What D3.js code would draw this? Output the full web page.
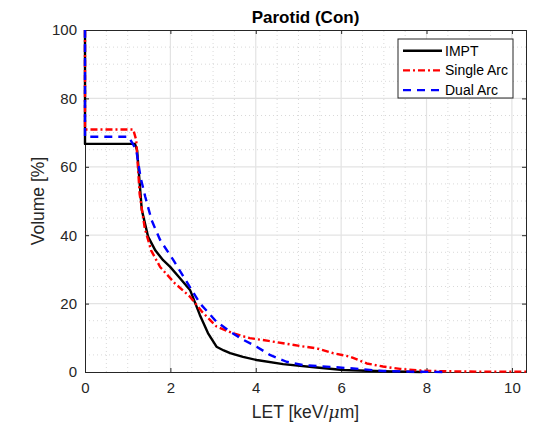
<!DOCTYPE html>
<html>
<head>
<meta charset="utf-8">
<script src="https://cdn.jsdelivr.net/npm/d3@7"></script>
<style>
  html, body { margin: 0; padding: 0; background: #fff; }
  svg { display: block; font-family: "Liberation Sans", Arial, Helvetica, sans-serif; }
</style>
</head>
<body>
<svg id="chart" width="537" height="427"></svg>
<script>
// LET-volume histogram for the contralateral parotid
const seriesNames = ["IMPT", "Single Arc", "Dual Arc"];
const seriesColors = ["#000000", "#ff0000", "#0000ff"];
const seriesDash = [null, "7,3,2,3", "8,6"];

const imptLET = [0, 0, 1.17, 1.22, 1.33, 1.48, 1.65, 1.83, 1.99, 2.2, 2.46, 2.58, 2.69, 2.88, 3.08, 3.25, 3.40, 3.7, 4.02, 4.64, 5.43, 6.05, 6.6, 7.2, 7.9];
const imptVol = [100, 66.7, 66.7, 64.9, 47.4, 39.5, 35.5, 32.7, 30.8, 27.8, 24, 20.2, 16.7, 11.4, 7.4, 6.3, 5.5, 4.4, 3.5, 2.3, 1.3, 0.6, 0.35, 0.15, 0];

const singleLET = [0, 0, 1.13, 1.2, 1.28, 1.4, 1.55, 1.76, 2.1, 2.46, 2.75, 3.08, 3.47, 3.86, 4.3, 4.64, 5.04, 5.43, 5.81, 6.21, 6.6, 6.98, 7.38, 7.77, 8.16, 8.6, 9.2, 10.33];
const singleVol = [100, 70.9, 70.9, 67.8, 52, 42, 35.5, 30.7, 26, 22, 17.5, 13.3, 11.3, 9.9, 9.1, 8.4, 7.6, 6.9, 5.5, 4.5, 2.5, 1.6, 0.9, 0.5, 0.3, 0.2, 0.1, 0.1];

const dualLET = [0, 0, 1.02, 1.2, 1.3, 1.41, 1.56, 1.76, 2.07, 2.38, 2.69, 3.08, 3.40, 3.71, 4.02, 4.33, 4.72, 5.11, 5.74, 6.21, 6.98, 7.6, 8.47];
const dualVol = [100, 68.8, 68.8, 65, 57, 51.3, 44.4, 38.6, 32.7, 26.4, 20.1, 14.7, 11.8, 9.4, 7.4, 5.0, 3.0, 2.0, 1.5, 1.1, 0.3, 0.1, 0];

const xTicks = [0, 2, 4, 6, 8, 10];
const yTicks = [0, 20, 40, 60, 80, 100];

const svg = d3.select("#chart");
const margin = { left: 85, right: 11, top: 30, bottom: 55 };
const W = 537, H = 427;
const xMax = 10.33;
const x = d3.scaleLinear().domain([0, xMax]).range([margin.left, W - margin.right]);
const y = d3.scaleLinear().domain([0, 100]).range([H - margin.bottom, margin.top]);

const textColor = "#262626";

// grid: dotted minor, solid major
const grid = svg.append("g");
d3.range(0.5, xMax, 0.5).forEach(v => {
  const major = Math.abs(v % 2) < 1e-9;
  grid.append("line").attr("x1", x(v)).attr("x2", x(v)).attr("y1", y(0)).attr("y2", y(100))
    .attr("stroke", major ? "#e3e3e3" : "#cfcfcf").attr("stroke-width", major ? 1.2 : 0.8)
    .attr("stroke-dasharray", major ? null : "1,3");
});
d3.range(5, 100, 5).forEach(v => {
  const major = v % 20 === 0;
  grid.append("line").attr("x1", x(0)).attr("x2", x(xMax)).attr("y1", y(v)).attr("y2", y(v))
    .attr("stroke", major ? "#e3e3e3" : "#cfcfcf").attr("stroke-width", major ? 1.2 : 0.8)
    .attr("stroke-dasharray", major ? null : "1,3");
});

// axes with a full box
const xAxis = d3.axisBottom(x).tickValues(xTicks).tickSize(-4).tickPadding(8);
const yAxis = d3.axisLeft(y).tickValues(yTicks).tickSize(-4).tickPadding(8);
const xa = svg.append("g").attr("transform", `translate(0,${y(0)})`).call(xAxis);
const ya = svg.append("g").attr("transform", `translate(${x(0)},0)`).call(yAxis);
const xTop = svg.append("g").attr("transform", `translate(0,${y(100)})`)
  .call(d3.axisTop(x).tickValues(xTicks).tickSize(-4).tickFormat(""));
const yRight = svg.append("g").attr("transform", `translate(${x(xMax)},0)`)
  .call(d3.axisRight(y).tickValues(yTicks).tickSize(-4).tickFormat(""));
[xa, ya, xTop, yRight].forEach(g => {
  g.select(".domain").attr("stroke", textColor).attr("stroke-width", 1);
  g.selectAll(".tick line").attr("stroke", textColor);
  g.selectAll("text").attr("fill", textColor).attr("font-size", 15)
    .attr("font-family", "Liberation Sans, Arial, sans-serif");
});
xa.selectAll("text").attr("dy", "0.85em");

// curves
const line = d3.line().x(d => x(d[0])).y(d => y(d[1]));
const seriesData = [
  d3.zip(imptLET, imptVol),
  d3.zip(singleLET, singleVol),
  d3.zip(dualLET, dualVol)
];
seriesData.forEach((d, i) => {
  svg.append("path").datum(d).attr("d", line)
    .attr("fill", "none").attr("stroke", seriesColors[i]).attr("stroke-width", 2.4)
    .attr("stroke-dasharray", seriesDash[i]).attr("stroke-linejoin", "round");
});

// title and axis labels
svg.append("text").attr("x", (x(0) + x(xMax)) / 2).attr("y", 23).attr("text-anchor", "middle")
  .attr("font-weight", "bold").attr("font-size", 17).attr("fill", "#000").text("Parotid (Con)");
svg.append("text").attr("transform", `translate(44,${(y(0) + y(100)) / 2}) rotate(-90)`)
  .attr("text-anchor", "middle").attr("font-size", 17.5).attr("fill", textColor).text("Volume [%]");
const xl = svg.append("text").attr("x", (x(0) + x(xMax)) / 2).attr("y", 418).attr("text-anchor", "middle")
  .attr("font-size", 17.5).attr("fill", textColor);
xl.append("tspan").text("LET [keV/");
xl.append("tspan").attr("font-style", "italic").attr("font-family", "DejaVu Serif, serif").text("μ");
xl.append("tspan").text("m]");

// legend
const lg = svg.append("g").attr("transform", "translate(398,39)");
lg.append("rect").attr("width", 115).attr("height", 59).attr("fill", "#fff")
  .attr("stroke", "#262626").attr("stroke-width", 1);
seriesNames.forEach((n, i) => {
  const yy = 11.7 + i * 19.7;
  lg.append("line").attr("x1", 5).attr("x2", 44).attr("y1", yy).attr("y2", yy)
    .attr("stroke", seriesColors[i]).attr("stroke-width", 2.4).attr("stroke-dasharray", seriesDash[i]);
  lg.append("text").attr("x", 47).attr("y", yy).attr("dy", "0.36em").attr("font-size", 14)
    .attr("fill", "#000").text(n);
});
</script>
</body>
</html>
